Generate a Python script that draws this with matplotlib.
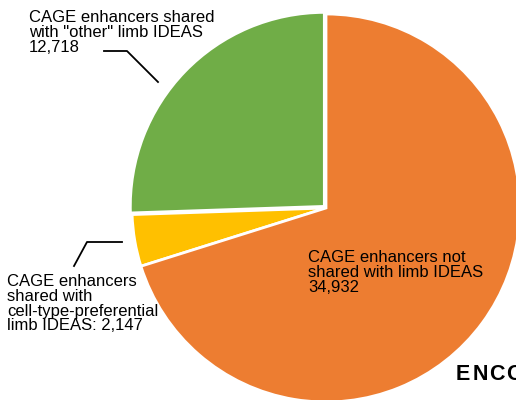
import matplotlib
matplotlib.use("Agg")
import matplotlib.pyplot as plt

categories = ['CAGE enhancers shared\nwith "other" limb IDEAS',
              'CAGE enhancers\nshared with\ncell-type-preferential\nlimb IDEAS',
              'CAGE enhancers not\nshared with limb IDEAS']
values = [12718, 2147, 34932]
colors = ['#70AD47', '#FFC000', '#ED7D31']
explode = [0.012, 0, 0]
watermark = "ENCODE"

plt.rcParams['font.family'] = ['Liberation Sans', 'DejaVu Sans']

W, H = 516, 400
fig = plt.figure(figsize=(W / 100, H / 100), dpi=100)
ax = fig.add_axes([0, 0, 1, 1])

cx, cy, R = 326, 208, 194  # pixel center/radius (y from top)
ax.pie(values, colors=colors, explode=explode, startangle=90, counterclock=True,
       radius=1, center=(0, 0),
       wedgeprops=dict(edgecolor='white', linewidth=2))
ax.set_aspect('auto')
ax.set_xlim(-cx / R, (W - cx) / R)
ax.set_ylim(-(H - cy) / R, cy / R)
ax.axis('off')

def fx(x):
    return x / W

def fy(y):
    return 1 - y / H

def fmt(v):
    return f"{v:,}"

fs = 12
fig.text(fx(29), fy(10), categories[0] + "\n" + fmt(values[0]), fontsize=fs,
         va='top', ha='left', linespacing=1.0)
fig.text(fx(7), fy(274), categories[1] + ": " + fmt(values[1]), fontsize=fs,
         va='top', ha='left', linespacing=0.98)
fig.text(fx(308), fy(250), categories[2] + "\n" + fmt(values[2]), fontsize=fs,
         va='top', ha='left', linespacing=1.0)

# watermark letters, slightly spaced
x0 = 455.5
step = 17
for i, ch in enumerate(watermark):
    fig.text(fx(x0 + i * step), fy(380), ch, fontsize=15.5, fontweight='bold',
             va='baseline', ha='left')

# leader lines (figure pixel coords)
def line(pts):
    xs = [fx(p[0]) for p in pts]
    ys = [fy(p[1]) for p in pts]
    fig.add_artist(plt.Line2D(xs, ys, color='black', linewidth=1.3,
                              transform=fig.transFigure))

line([(104, 51), (127, 51), (158, 82)])
line([(122, 242), (87, 242), (74, 266)])

fig.savefig("out.png", dpi=100)
